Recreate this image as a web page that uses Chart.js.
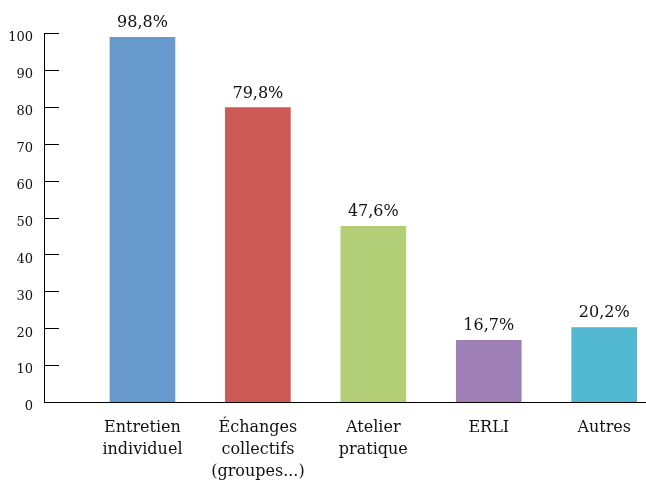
<!DOCTYPE html>
<html lang="fr">
<head>
  <meta charset="UTF-8">
  <title>Modalités d'accompagnement</title>
  <script src="https://cdn.jsdelivr.net/npm/chart.js"></script>
  <style>
    body {
      margin: 0;
      padding: 0;
      background: #fff;
    }
    canvas {
      display: block;
    }
  </style>
</head>
<body>
  <canvas id="chart" width="646" height="480"></canvas>

  <script>
    // Chart data
    const categories = [
      ['Entretien', 'individuel'],
      ['Échanges', 'collectifs', '(groupes...)'],
      ['Atelier', 'pratique'],
      ['ERLI'],
      ['Autres']
    ];
    const percentages = [98.8, 79.8, 47.6, 16.7, 20.2];
    const barColors = ['#6799cc', '#cd5a54', '#b2cf78', '#9e80b7', '#52b8d2'];
    const yTicks = [0, 10, 20, 30, 40, 50, 60, 70, 80, 90, 100];

    const serif = '"DejaVu Serif", Georgia, serif';

    // Percentage written above each bar
    const valueLabels = {
      id: 'valueLabels',
      afterDatasetsDraw(chart) {
        const ctx = chart.ctx;
        const meta = chart.getDatasetMeta(0);
        ctx.save();
        ctx.font = '16px ' + serif;
        ctx.fillStyle = '#111';
        ctx.textAlign = 'center';
        ctx.textBaseline = 'alphabetic';
        meta.data.forEach((bar, i) => {
          const txt = percentages[i].toFixed(1).replace('.', ',') + '%';
          ctx.fillText(txt, bar.x, bar.y - 10);
        });
        ctx.restore();
      }
    };

    // Tick marks pointing into the plot area
    const innerTicks = {
      id: 'innerTicks',
      afterDraw(chart) {
        const ctx = chart.ctx;
        const y = chart.scales.y;
        const x0 = chart.chartArea.left;
        ctx.save();
        ctx.strokeStyle = '#000';
        ctx.lineWidth = 1;
        y.ticks.forEach(t => {
          if (t.value === 0) return;
          const py = Math.round(y.getPixelForValue(t.value)) + 0.5;
          ctx.beginPath();
          ctx.moveTo(x0, py);
          ctx.lineTo(x0 + 15, py);
          ctx.stroke();
        });
        ctx.restore();
      }
    };

    const ctx = document.getElementById('chart').getContext('2d');

    new Chart(ctx, {
      type: 'bar',
      data: {
        datasets: [{
          data: percentages.map((v, i) => ({ x: i, y: v })),
          backgroundColor: barColors,
          borderWidth: 0,
          barThickness: 65
        }]
      },
      options: {
        responsive: false,
        animation: false,
        layout: { padding: { top: 33, right: 0, left: 0, bottom: 0 } },
        plugins: {
          legend: { display: false },
          tooltip: { enabled: false }
        },
        scales: {
          x: {
            type: 'linear',
            offset: false,
            min: -0.853,
            max: 4.359,
            afterBuildTicks: s => { s.ticks = categories.map((_, i) => ({ value: i })); },
            afterFit: s => { s.height = 78; },
            grid: { display: false, drawTicks: false },
            border: { display: true, color: '#000', width: 1 },
            ticks: {
              autoSkip: false,
              maxRotation: 0,
              padding: 15,
              color: '#111',
              font: { family: serif, size: 16, lineHeight: 1.37 },
              callback: v => categories[v]
            }
          },
          y: {
            min: 0,
            max: 100,
            afterBuildTicks: s => { s.ticks = yTicks.map(v => ({ value: v })); },
            afterFit: s => { s.width = 44; },
            grid: { display: false, drawTicks: false },
            border: { display: true, color: '#000', width: 1 },
            ticks: {
              padding: 11,
              labelOffset: 5,
              color: '#111',
              font: { family: serif, size: 13 }
            }
          }
        }
      },
      plugins: [valueLabels, innerTicks]
    });
  </script>
</body>
</html>
